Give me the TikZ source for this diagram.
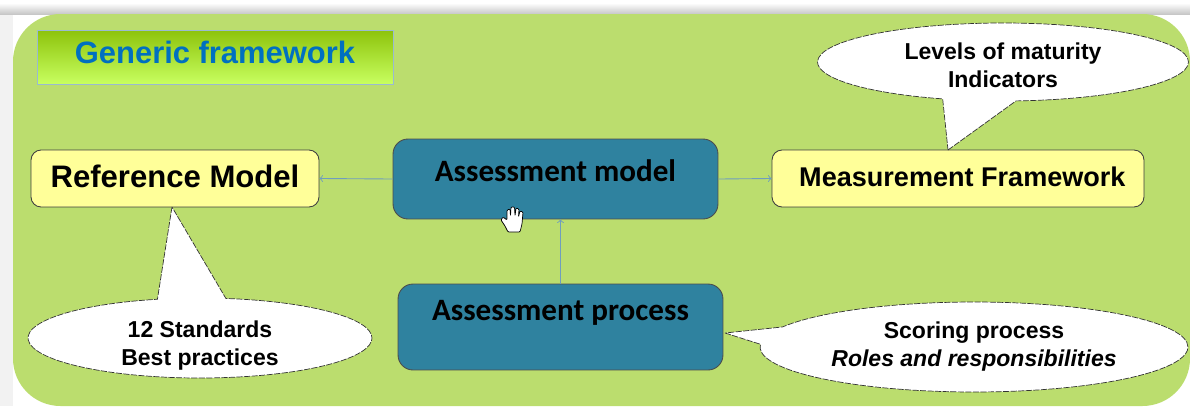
\documentclass[tikz,border=0pt]{standalone}
\usepackage{fontspec}
\setmainfont{Liberation Sans}
\newfontfamily\calibrifont{Carlito}
\usetikzlibrary{shapes.callouts}
\definecolor{bggreen}{HTML}{BBDD6E}
\definecolor{tealfill}{HTML}{2F829F}
\definecolor{paleyellow}{HTML}{FFFF99}
\definecolor{linkblue}{HTML}{6F9DBE}
\definecolor{titletop}{HTML}{8DC30B}
\definecolor{titlebottom}{HTML}{C8FF60}
\definecolor{titleblue}{HTML}{0070C0}
\tikzset{
	yellowbox/.style={draw=black!75,fill=paleyellow,rounded corners=0.2cm,line width=0.5pt,minimum height=1.14cm,text depth=2.3pt,font=\fontsize{15.4}{18}\selectfont\bfseries},
	tealbox/.style={draw=black!70,fill=tealfill,rounded corners=0.3cm,line width=0.5pt,minimum width=6.5cm,text height=3.4pt,font=\calibrifont\fontsize{17.7}{19}\selectfont\bfseries},
	bubble/.style={ellipse callout,draw=black!80,fill=white,dash pattern=on 3.5pt off 0.8pt,line width=0.4pt,inner sep=0pt,callout pointer arc=23},
	bubbletext/.style={align=center,inner sep=0pt,font=\fontsize{13.1}{16}\selectfont\bfseries},
	link/.style={->,>=to,draw=linkblue,line width=0.5pt}
}
\begin{document}
\begin{tikzpicture}[x=0.02cm,y=-0.02cm]
	\useasboundingbox (0,0) rectangle (1190,406);
	\fill[white] (0,0) rectangle (1190,406);
	\fill[black!5] (0,14) rectangle (13,406);%shadow left
	\shade[top color=white,bottom color=black!22] (0,3) rectangle (1190,14);%shadow top
	\fill[bggreen] (13,14) [rounded corners=0.95cm] -- (1190,14) -- (1190,406) -- (13,406) -- cycle;%background
	\node[draw=linkblue!70,top color=titletop,bottom color=titlebottom,minimum width=7.12cm,minimum height=1.08cm,inner sep=0pt,text=titleblue,text depth=5.8pt,font=\fontsize{17.6}{19}\selectfont\bfseries] (title) at (215,57) {Generic framework};
	\node[yellowbox,minimum width=5.76cm,font=\fontsize{17.7}{19}\selectfont\bfseries] (refmodel) at (175,178.5) {Reference Model};
	\node[yellowbox,minimum width=7.44cm] (measureframe) at (958,178.5) {\hspace*{5pt}Measurement Framework};
	\node[tealbox,minimum height=1.6cm,text depth=0pt] (assessmodel) at (555.5,179) {Assessment model};
	\node[tealbox,minimum height=1.72cm,text depth=10.4pt] (assessprocess) at (560.5,327) {Assessment process};
	\coordinate (tipmeasure) at (948,150);
	\coordinate (tipref) at (172,207);
	\coordinate (tipprocess) at (725,333);
	\node[bubble,minimum width=7.42cm,minimum height=1.56cm,callout absolute pointer={(tipmeasure)}] (bubblemeasure) at (1003,62) {};
	\node[bubble,minimum width=6.88cm,minimum height=1.6cm,callout absolute pointer={(tipref)}] (bubbleref) at (200,338) {};
	\node[bubble,minimum width=8.56cm,minimum height=1.8cm,callout absolute pointer={(tipprocess)}] (bubbleprocess) at (974,347) {};
	\node[bubbletext] (textmeasure) at (1003,65) {Levels of maturity\\Indicators};
	\node[bubbletext] (textref) at (200,345.5) {12 Standards\\Best practices};
	\node[bubbletext] (textprocess) at (974,346.5) {Scoring process\\\itshape Roles and responsibilities};
	\draw[link] (assessmodel.west) -- (refmodel.east);
	\draw[link] (assessmodel.east) -- (measureframe.west);
	\draw[link] (assessprocess.north) -- (assessprocess.north |- assessmodel.south);
	\draw[fill=white,draw=black,line width=0.4pt,rounded corners=0.02cm] (508,232) -- (505,226) -- (501,220) -- (503,217) -- (507,220) -- (507,210) -- (510,209) -- (510.5,216) -- (511,207) -- (514.5,207) -- (515,216) -- (516,208) -- (519,209) -- (518.5,217) -- (520,211) -- (523,212) -- (522,224) -- (520,232) -- cycle;%hand cursor
\end{tikzpicture}
\end{document}
